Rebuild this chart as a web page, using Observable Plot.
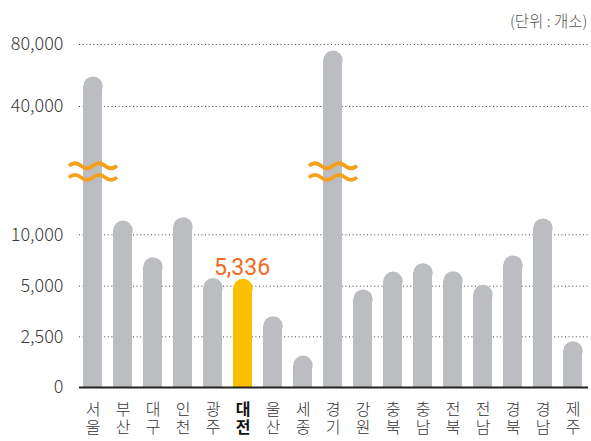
<!DOCTYPE html>
<html>
<head>
<meta charset="utf-8">
<script src="https://cdn.jsdelivr.net/npm/d3@7"></script>
<script src="https://cdn.jsdelivr.net/npm/@observablehq/plot@0.6"></script>
<style>
  html, body { margin: 0; padding: 0; background: #fff; }
  #chart svg { display: block; }
</style>
</head>
<body>
<div id="chart"></div>
<script>
// ---- data ----
const regions = ["서울","부산","대구","인천","광주","대전","울산","세종","경기","강원","충북","충남","전북","전남","경북","경남","제주"];
const counts  = [56800, 11000, 7430, 11320, 5400, 5336, 3320, 1380, 73500, 4640, 6040, 6850, 6070, 4870, 7600, 11200, 2090];
const highlight = "대전";
const brokenRegions = ["서울", "경기"];
const yTicks = [0, 2500, 5000, 10000, 40000, 80000];
const gridTicks = [2500, 5000, 10000, 40000, 80000];
const unitLabel = "(단위 : 개소)";
const breakValue = 16000;

// broken (piecewise) value axis
const yKnots = [0, 2500, 5000, 10000, breakValue, 40000, 80000];
const yPixels = [387, 336.3, 285.7, 234.3, 172.6, 106, 44];

const data = regions.map((r, i) => ({region: r, value: counts[i], first: r[0], second: r[1]}));
const fmt = d3.format(",");

const GREY = "#bcbdc0", GOLD = "#fbbf00", ORANGE = "#f26a21", WAVE = "#f6a01a";
const R = 9.73;      // cap radius (half band width)
const CAP = 5.75;    // cap offset

// wavy double break symbol
const waveSymbol = {
  draw(ctx) {
    for (const oy of [-5.8, 5.8]) {
      ctx.moveTo(-24, oy);
      for (let i = 0; i < 4; i++) {
        const x0 = -24 + i * 12;
        const s = i % 2 === 0 ? -1 : 1;
        ctx.quadraticCurveTo(x0 + 6, oy + s * 5, x0 + 12, oy);
      }
    }
  }
};

const KFONT = "'Noto Sans CJK KR', 'Noto Sans', sans-serif";
const labelOpts = {fill: "#333", fontSize: 16, fontWeight: 300, lineAnchor: "top"};

const chart = Plot.plot({
  width: 591,
  height: 441,
  marginLeft: 79,
  marginRight: 3,
  marginTop: 0,
  marginBottom: 0,
  style: {fontFamily: KFONT, fontSize: "16px", background: "#fff"},
  x: {domain: regions, range: [80, 586], paddingInner: 0.36, paddingOuter: 0, axis: null},
  y: {type: "linear", domain: yKnots, range: yPixels},
  color: {type: "identity"},
  marks: [
    Plot.ruleY(gridTicks, {stroke: "#444", strokeDasharray: "1,2.6", strokeWidth: 1}),
    Plot.axisY({ticks: yTicks, tickFormat: fmt, tickSize: 0, tickPadding: 16, label: null,
                fill: "#3a3a3a", fontSize: 18, fontWeight: 300}),
    Plot.barY(data, {x: "region", y: "value", insetTop: CAP,
                     fill: d => d.region === highlight ? GOLD : GREY}),
    Plot.dot(data, {x: "region", y: "value", r: R, dy: CAP,
                    fill: d => d.region === highlight ? GOLD : GREY, stroke: null}),
    Plot.dot(data.filter(d => brokenRegions.includes(d.region)),
             {x: "region", y: () => breakValue, symbol: waveSymbol, fill: "none",
              stroke: WAVE, strokeWidth: 3.8, dy: -1.5}),
    Plot.ruleY([0], {stroke: "#222", strokeWidth: 2}),
    // category labels: two stacked syllables
    Plot.text(data.filter(d => d.region !== highlight), {x: "region", y: () => 0, text: "first", dy: 16, ...labelOpts}),
    Plot.text(data.filter(d => d.region !== highlight), {x: "region", y: () => 0, text: "second", dy: 34, ...labelOpts}),
    Plot.text(data.filter(d => d.region === highlight), {x: "region", y: () => 0, text: "first", dy: 16, ...labelOpts, fill: "#111", fontWeight: "bold"}),
    Plot.text(data.filter(d => d.region === highlight), {x: "region", y: () => 0, text: "second", dy: 34, ...labelOpts, fill: "#111", fontWeight: "bold"}),
    Plot.text(data.filter(d => d.region === highlight), {
      x: "region", y: "value", text: d => fmt(d.value),
      lineAnchor: "bottom", dy: -8, dx: -1, fill: ORANGE, fontSize: 23,
      fontFamily: "'Liberation Sans Narrow', Roboto, sans-serif"
    }),
    Plot.text([unitLabel], {frameAnchor: "top-right", dy: 15, dx: -1, fill: "#555",
                            fontSize: 15.5, fontWeight: 300})
  ]
});

document.getElementById("chart").appendChild(chart);
</script>
</body>
</html>
